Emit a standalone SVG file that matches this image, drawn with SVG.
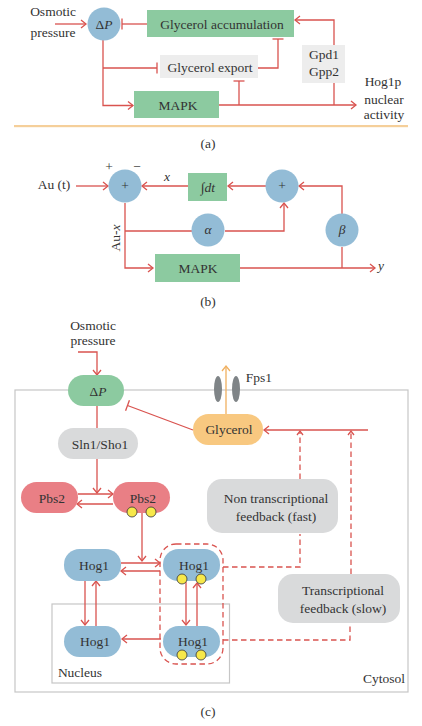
<svg xmlns="http://www.w3.org/2000/svg" width="422" height="726" viewBox="0 0 422 726">
<style>
text{font-family:"Liberation Serif","DejaVu Serif",serif;font-size:13.5px;fill:#333;text-anchor:middle}
.i{font-style:italic}
.l,.d,.h{fill:none;stroke:#d9534f;stroke-width:1.3}
.d{stroke-dasharray:5.5 3.5}
.o{fill:none;stroke:#f0b060;stroke-width:1.3}
.e{fill:none;stroke:#c6c6c6;stroke-width:1.2}
.g{fill:#8ccaa0}.b{fill:#93bcd6}.y{fill:#f7e84a;stroke:#333;stroke-width:.8}
.s{fill:#ededed}.p{fill:#d9dadb}.r{fill:#e97f85}
.arrow{marker-end:url(#a)}.tee{marker-end:url(#t)}.small{marker-end:url(#as)}
</style>
<defs>
<marker id="a" viewBox="0 0 12 12" refX="10" refY="6" markerWidth="12" markerHeight="12" markerUnits="userSpaceOnUse" orient="auto"><path class="h" d="M5 2L10 6L5 10"/></marker>
<marker id="as" viewBox="0 0 12 12" refX="10" refY="6" markerWidth="12" markerHeight="12" markerUnits="userSpaceOnUse" orient="auto"><path class="h" d="M6 3L10 6L6 9"/></marker>
<marker id="ao" viewBox="0 0 12 12" refX="10" refY="6" markerWidth="12" markerHeight="12" markerUnits="userSpaceOnUse" orient="auto"><path class="o" d="M5 2L10 6L5 10"/></marker>
<marker id="t" viewBox="0 0 12 12" refX="6" refY="6" markerWidth="12" markerHeight="12" markerUnits="userSpaceOnUse" orient="auto"><path class="h" d="M6 0.5V11.5"/></marker>
</defs>
<rect width="422" height="726" fill="#fff"/>
<rect x="14" y="125" width="394" height="2.2" fill="#f5cf9a"/>
<rect class="e" x="15" y="390" width="393" height="302"/>
<rect class="e" x="52" y="604" width="177.500" height="79"/>
<g id="connectors">
<path class="l arrow" d="M55 24H86"/>
<path class="l tee" d="M147 24H122"/>
<path class="l arrow" d="M103 40V105.500H133"/>
<path class="l tee" d="M103 68H157"/>
<path class="l tee" d="M258 68H278V39"/>
<path class="l arrow" d="M219 105H356"/>
<path class="l tee" d="M239 105V81"/>
<path class="l" d="M334 105V83"/>
<path class="l arrow" d="M334 45V20H295"/>
<path class="l arrow" d="M76 186H108"/>
<path class="l arrow" d="M188 186H142"/>
<path class="l arrow" d="M266 186H228"/>
<path class="l arrow" d="M342 214V186H299"/>
<path class="l arrow" d="M125 203V268H153"/>
<path class="l" d="M125 231H192"/>
<path class="l arrow" d="M225 231H284V203"/>
<path class="l arrow" d="M240 268H375"/>
<path class="l" d="M342 247V268"/>
<path class="l arrow" d="M78 352H97V375"/>
<path class="l" d="M97 406V428"/>
<path class="l arrow" d="M97 459V493"/>
<path class="l tee" d="M193 430L127.500 405.500"/>
<path class="l arrow" d="M78 494H113"/>
<path class="l arrow" d="M113 504H77"/>
<path class="l arrow" d="M142 513V561"/>
<path class="l arrow" d="M121 563H160"/>
<path class="l arrow" d="M160 571H121"/>
<path class="l arrow" d="M85 581V625"/>
<path class="l arrow" d="M96 626V581"/>
<path class="l arrow" d="M186 582V625"/>
<path class="l arrow" d="M197 626V583"/>
<path class="l arrow" d="M161 639H122"/>
<path class="o" style="marker-end:url(#ao)" d="M226 414V366"/>
<path class="l arrow" d="M368 430H264"/>
<path class="d" d="M223 567H300V534"/>
<path class="d small" d="M300 479V431"/>
<path class="d" d="M223 640H350V623"/>
<path class="d small" d="M351 574V431"/>
<rect class="d" x="160" y="544" width="63" height="120" rx="16"/>
</g>
<g id="osm-a"><text x="53" y="16">Osmotic</text><text x="53" y="37">pressure</text></g>
<g id="dp-a"><circle class="b" cx="104" cy="24" r="16.500"/><text x="104" y="29">Δ<tspan class="i">P</tspan></text></g>
<g id="glyc-acc"><rect class="g" x="147" y="10" width="147" height="27"/><text x="222" y="29">Glycerol accumulation</text></g>
<g id="glyc-exp"><rect class="s" x="160" y="55" width="98" height="23"/><text x="210" y="72">Glycerol export</text></g>
<g id="gpd"><rect class="s" x="302" y="45" width="43" height="38"/><text x="324" y="59">Gpd1</text><text x="324" y="76">Gpp2</text></g>
<g id="mapk-a"><rect class="g" x="134" y="91" width="85" height="27"/><text x="178" y="110">MAPK</text></g>
<g id="hog-a"><text x="383" y="86">Hog1p</text><text x="384" y="104">nuclear</text><text x="384" y="119">activity</text></g>
<text x="208" y="148">(a)</text>
<g id="au"><text x="54" y="189">Au (t)</text><text x="109" y="171">+</text><text x="137" y="171">−</text><text x="167" y="181" class="i">x</text></g>
<g id="sum1"><circle class="b" cx="125" cy="186" r="16.500"/><text x="125" y="190">+</text></g>
<g id="int"><rect class="g" x="188" y="173" width="39" height="28"/><text x="208" y="192" class="i">∫dt</text></g>
<g id="sum2"><circle class="b" cx="282" cy="186" r="16.500"/><text x="282" y="190">+</text></g>
<g id="alpha"><circle class="b" cx="208" cy="230" r="16.500"/><text x="208" y="234" class="i">α</text></g>
<g id="beta"><circle class="b" cx="342" cy="230" r="16.500"/><text x="342" y="234" class="i">β</text></g>
<g id="mapk-b"><rect class="g" x="155" y="254" width="85" height="28"/><text x="198" y="273">MAPK</text></g>
<text transform="translate(120 238) rotate(-90)">Au-<tspan class="i">x</tspan></text>
<text x="381" y="270" class="i">y</text>
<text x="208" y="306">(b)</text>
<g id="osm-c"><text x="93" y="330">Osmotic</text><text x="93" y="345">pressure</text></g>
<g id="dp-c"><rect class="g" x="68" y="375" width="56" height="31" rx="15.500"/><text x="98" y="396">Δ<tspan class="i">P</tspan></text></g>
<g id="sln"><rect class="p" x="58" y="428" width="80" height="31" rx="15.500"/><text x="100" y="449">Sln1/Sho1</text></g>
<g id="pbs1"><rect class="r" x="21" y="482" width="57" height="31" rx="15.500"/><text x="52" y="503">Pbs2</text></g>
<g id="pbs2"><rect class="r" x="113" y="482" width="57" height="31" rx="15.500"/><text x="143" y="503">Pbs2</text><circle class="y" cx="132" cy="512" r="5"/><circle class="y" cx="151" cy="512" r="5"/></g>
<g id="glycerol"><rect x="193" y="414" width="70" height="31" rx="15.500" fill="#f8c880"/><text x="229" y="434">Glycerol</text></g>
<g id="fps"><ellipse cx="218" cy="389" rx="4" ry="13" fill="#7f8487"/><ellipse cx="236" cy="389" rx="4" ry="13" fill="#7f8487"/><text x="259" y="382">Fps1</text></g>
<g id="nt"><rect class="p" x="207" y="479" width="131" height="54" rx="15"/><text x="276" y="503">Non transcriptional</text><text x="276" y="521">feedback (fast)</text></g>
<g id="tf"><rect class="p" x="278" y="574" width="122" height="49" rx="15"/><text x="343" y="595">Transcriptional</text><text x="343" y="613">feedback (slow)</text></g>
<g id="h1"><rect class="b" x="64" y="549" width="57" height="32" rx="15.500"/><text x="94" y="570">Hog1</text></g>
<g id="h2"><rect class="b" x="163" y="549" width="57" height="32" rx="15.500"/><text x="194" y="570">Hog1</text><circle class="y" cx="182" cy="579" r="5"/><circle class="y" cx="201" cy="579" r="5"/></g>
<g id="h3"><rect class="b" x="64" y="626" width="57" height="31" rx="15.500"/><text x="95" y="646">Hog1</text></g>
<g id="h4"><rect class="b" x="163" y="626" width="57" height="31" rx="15.500"/><text x="193" y="646">Hog1</text><circle class="y" cx="182" cy="655" r="5"/><circle class="y" cx="201" cy="655" r="5"/></g>
<text x="80" y="677">Nucleus</text>
<text x="384" y="683">Cytosol</text>
<text x="208" y="716">(c)</text>
</svg>
